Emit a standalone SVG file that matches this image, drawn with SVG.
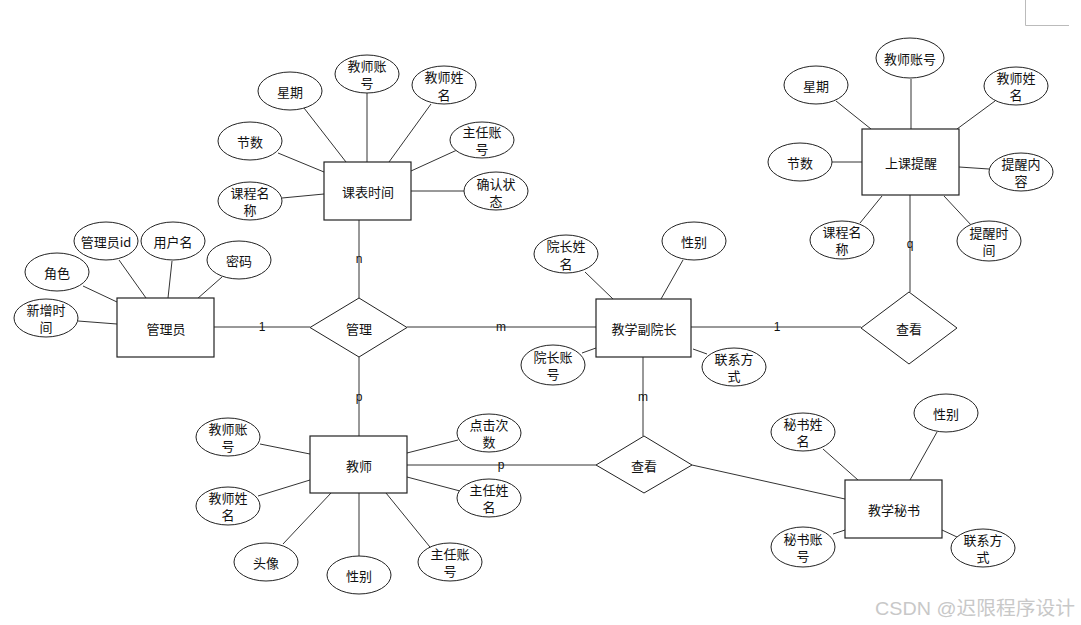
<svg xmlns="http://www.w3.org/2000/svg" width="1081" height="625" viewBox="0 0 1081 625">
<style>
.bg{fill:#fff}
.ent{fill:#fff;stroke:#222;stroke-width:1.2}
.att{fill:#fff;stroke:#222;stroke-width:1}
.rel{fill:#fff;stroke:#222;stroke-width:1}
.ln{stroke:#333;stroke-width:1;fill:none}
.t{font-family:"Noto Sans CJK SC","Liberation Sans",sans-serif;font-size:13px;fill:#111;text-anchor:middle;dominant-baseline:central}
.lb{font-family:"Liberation Sans",sans-serif;font-size:12px;fill:#111;text-anchor:middle;dominant-baseline:central}
.wm{font-family:"Liberation Sans","Noto Sans CJK SC",sans-serif;font-size:19px;fill:#c8c8c8}
</style>
<rect class="bg" x="0" y="0" width="1081" height="625"/>
<path d="M1025.500 0 V25.500 H1069" stroke="#bbb" stroke-width="1" fill="none"/>

<g id="connectors">
<!-- 管理员 attributes -->
<line class="ln" x1="83" y1="286" x2="117" y2="302"/>
<line class="ln" x1="119" y1="260" x2="146" y2="298"/>
<line class="ln" x1="172" y1="261" x2="168" y2="298"/>
<line class="ln" x1="222" y1="277" x2="197" y2="299"/>
<line class="ln" x1="78" y1="321" x2="117" y2="324"/>
<!-- 课表时间 attributes -->
<line class="ln" x1="304" y1="108" x2="346" y2="162"/>
<line class="ln" x1="367" y1="93" x2="367" y2="162"/>
<line class="ln" x1="431" y1="104" x2="389" y2="162"/>
<line class="ln" x1="457" y1="150" x2="411" y2="171"/>
<line class="ln" x1="464" y1="191" x2="411" y2="191"/>
<line class="ln" x1="278" y1="153" x2="324" y2="172"/>
<line class="ln" x1="282" y1="198" x2="324" y2="194"/>
<!-- 教学副院长 attributes -->
<line class="ln" x1="585" y1="272" x2="613" y2="299"/>
<line class="ln" x1="683" y1="260" x2="661" y2="299"/>
<line class="ln" x1="582" y1="353" x2="596" y2="348"/>
<line class="ln" x1="693" y1="349" x2="707" y2="354"/>
<!-- 上课提醒 attributes -->
<line class="ln" x1="836" y1="101" x2="871" y2="129"/>
<line class="ln" x1="911" y1="79" x2="911" y2="129"/>
<line class="ln" x1="995" y1="101" x2="957" y2="129"/>
<line class="ln" x1="832" y1="162" x2="862" y2="162"/>
<line class="ln" x1="959" y1="167" x2="989" y2="169"/>
<line class="ln" x1="860" y1="223" x2="882" y2="196"/>
<line class="ln" x1="972" y1="226" x2="944" y2="196"/>
<!-- 教师 attributes -->
<line class="ln" x1="260" y1="444" x2="310" y2="454"/>
<line class="ln" x1="258" y1="496" x2="310" y2="480"/>
<line class="ln" x1="283" y1="544" x2="331" y2="493"/>
<line class="ln" x1="359" y1="493" x2="359" y2="556"/>
<line class="ln" x1="434" y1="552" x2="386" y2="493"/>
<line class="ln" x1="460" y1="491" x2="407" y2="477"/>
<line class="ln" x1="458" y1="440" x2="407" y2="453"/>
<!-- 教学秘书 attributes -->
<line class="ln" x1="823" y1="449" x2="858" y2="480"/>
<line class="ln" x1="937" y1="432" x2="910" y2="480"/>
<line class="ln" x1="833" y1="534" x2="845" y2="530"/>
<line class="ln" x1="942" y1="530" x2="957" y2="537"/>
<!-- relationships -->
<line class="ln" x1="214" y1="327" x2="310" y2="327"/>
<line class="ln" x1="359" y1="220" x2="359" y2="298"/>
<line class="ln" x1="407" y1="327" x2="596" y2="327"/>
<line class="ln" x1="359" y1="357" x2="359" y2="436"/>
<line class="ln" x1="691" y1="327" x2="861" y2="327"/>
<line class="ln" x1="910" y1="195" x2="910" y2="292"/>
<line class="ln" x1="643" y1="357" x2="643" y2="436"/>
<line class="ln" x1="407" y1="465" x2="596" y2="465"/>
<line class="ln" x1="692" y1="465" x2="845" y2="499"/>
<text class="lb" x="262" y="327">1</text>
<text class="lb" x="359" y="259">n</text>
<text class="lb" x="501" y="327">m</text>
<text class="lb" x="359" y="397">p</text>
<text class="lb" x="777" y="327">1</text>
<text class="lb" x="910" y="244">q</text>
<text class="lb" x="643" y="397">m</text>
<text class="lb" x="501" y="465">p</text>
</g>

<!-- entities -->
<g id="e-admin"><rect class="ent" x="117" y="298" width="97" height="59"/><text class="t" x="166" y="328">管理员</text></g>
<g id="e-schedule"><rect class="ent" x="324" y="162" width="87" height="58"/><text class="t" x="368" y="191">课表时间</text></g>
<g id="e-vicedean"><rect class="ent" x="596" y="299" width="95" height="58"/><text class="t" x="644" y="328">教学副院长</text></g>
<g id="e-remind"><rect class="ent" x="862" y="129" width="97" height="66"/><text class="t" x="911" y="162">上课提醒</text></g>
<g id="e-teacher"><rect class="ent" x="310" y="436" width="97" height="57"/><text class="t" x="359" y="465">教师</text></g>
<g id="e-secretary"><rect class="ent" x="845" y="480" width="97" height="58"/><text class="t" x="894" y="509">教学秘书</text></g>

<!-- relationships -->
<g id="r-manage"><polygon class="rel" points="359,298 407,327.500 359,357 310,327.500"/><text class="t" x="359" y="328">管理</text></g>
<g id="r-view1"><polygon class="rel" points="909,292 957,328 909,364 861,328"/><text class="t" x="909" y="328">查看</text></g>
<g id="r-view2"><polygon class="rel" points="644,436 692,465 644,493 596,465"/><text class="t" x="644" y="465">查看</text></g>

<!-- attributes of 管理员 -->
<g id="a-admin-role"><ellipse class="att" cx="57" cy="272" rx="32" ry="19"/><text class="t" x="57" y="272">角色</text></g>
<g id="a-admin-id"><ellipse class="att" cx="106" cy="241" rx="32" ry="19"/><text class="t" x="106" y="241">管理员id</text></g>
<g id="a-admin-user"><ellipse class="att" cx="173" cy="241" rx="32" ry="19"/><text class="t" x="173" y="241">用户名</text></g>
<g id="a-admin-pwd"><ellipse class="att" cx="239" cy="260" rx="32" ry="19"/><text class="t" x="239" y="260">密码</text></g>
<g id="a-admin-time"><ellipse class="att" cx="46" cy="318" rx="32" ry="19"/><text class="t" x="46" y="309">新增时</text><text class="t" x="46" y="326">间</text></g>

<!-- attributes of 课表时间 -->
<g id="a-s-week"><ellipse class="att" cx="290" cy="91" rx="32" ry="19"/><text class="t" x="290" y="91">星期</text></g>
<g id="a-s-tacc"><ellipse class="att" cx="367" cy="74" rx="32" ry="19"/><text class="t" x="367" y="65">教师账</text><text class="t" x="367" y="82">号</text></g>
<g id="a-s-tname"><ellipse class="att" cx="444" cy="85" rx="32" ry="19"/><text class="t" x="444" y="76">教师姓</text><text class="t" x="444" y="94">名</text></g>
<g id="a-s-dacc"><ellipse class="att" cx="482" cy="140" rx="32" ry="18"/><text class="t" x="482" y="131">主任账</text><text class="t" x="482" y="148">号</text></g>
<g id="a-s-confirm"><ellipse class="att" cx="496" cy="191" rx="32" ry="19"/><text class="t" x="496" y="183">确认状</text><text class="t" x="496" y="200">态</text></g>
<g id="a-s-num"><ellipse class="att" cx="250" cy="141" rx="32" ry="19"/><text class="t" x="250" y="141">节数</text></g>
<g id="a-s-course"><ellipse class="att" cx="250" cy="201" rx="32" ry="19"/><text class="t" x="250" y="192">课程名</text><text class="t" x="250" y="209">称</text></g>

<!-- attributes of 教学副院长 -->
<g id="a-v-name"><ellipse class="att" cx="566" cy="254" rx="32" ry="19"/><text class="t" x="566" y="245">院长姓</text><text class="t" x="566" y="263">名</text></g>
<g id="a-v-sex"><ellipse class="att" cx="694" cy="241" rx="32" ry="19"/><text class="t" x="694" y="241">性别</text></g>
<g id="a-v-acc"><ellipse class="att" cx="553" cy="365" rx="32" ry="20"/><text class="t" x="553" y="356">院长账</text><text class="t" x="553" y="373">号</text></g>
<g id="a-v-contact"><ellipse class="att" cx="734" cy="367" rx="32" ry="19"/><text class="t" x="734" y="358">联系方</text><text class="t" x="734" y="375">式</text></g>

<!-- attributes of 上课提醒 -->
<g id="a-r-tacc"><ellipse class="att" cx="910" cy="58" rx="34" ry="20"/><text class="t" x="910" y="58">教师账号</text></g>
<g id="a-r-week"><ellipse class="att" cx="816" cy="85" rx="32" ry="19"/><text class="t" x="816" y="85">星期</text></g>
<g id="a-r-tname"><ellipse class="att" cx="1016" cy="86" rx="32" ry="19"/><text class="t" x="1016" y="77">教师姓</text><text class="t" x="1016" y="94">名</text></g>
<g id="a-r-num"><ellipse class="att" cx="800" cy="162" rx="32" ry="19"/><text class="t" x="800" y="162">节数</text></g>
<g id="a-r-content"><ellipse class="att" cx="1021" cy="172" rx="32" ry="19"/><text class="t" x="1021" y="163">提醒内</text><text class="t" x="1021" y="180">容</text></g>
<g id="a-r-course"><ellipse class="att" cx="842" cy="240" rx="32" ry="19"/><text class="t" x="842" y="231">课程名</text><text class="t" x="842" y="248">称</text></g>
<g id="a-r-time"><ellipse class="att" cx="989" cy="241" rx="32" ry="20"/><text class="t" x="989" y="232">提醒时</text><text class="t" x="989" y="249">间</text></g>

<!-- attributes of 教师 -->
<g id="a-t-acc"><ellipse class="att" cx="228" cy="437" rx="32" ry="19"/><text class="t" x="228" y="428">教师账</text><text class="t" x="228" y="445">号</text></g>
<g id="a-t-name"><ellipse class="att" cx="228" cy="506" rx="32" ry="19"/><text class="t" x="228" y="497">教师姓</text><text class="t" x="228" y="514">名</text></g>
<g id="a-t-avatar"><ellipse class="att" cx="266" cy="562" rx="32" ry="19"/><text class="t" x="266" y="562">头像</text></g>
<g id="a-t-sex"><ellipse class="att" cx="359" cy="575" rx="32" ry="19"/><text class="t" x="359" y="575">性别</text></g>
<g id="a-t-dacc"><ellipse class="att" cx="450" cy="562" rx="32" ry="19"/><text class="t" x="450" y="553">主任账</text><text class="t" x="450" y="570">号</text></g>
<g id="a-t-dname"><ellipse class="att" cx="489" cy="498" rx="32" ry="19"/><text class="t" x="489" y="489">主任姓</text><text class="t" x="489" y="506">名</text></g>
<g id="a-t-clicks"><ellipse class="att" cx="489" cy="433" rx="32" ry="19"/><text class="t" x="489" y="424">点击次</text><text class="t" x="489" y="441">数</text></g>

<!-- attributes of 教学秘书 -->
<g id="a-c-name"><ellipse class="att" cx="803" cy="432" rx="32" ry="19"/><text class="t" x="803" y="423">秘书姓</text><text class="t" x="803" y="440">名</text></g>
<g id="a-c-sex"><ellipse class="att" cx="946" cy="413" rx="32" ry="19"/><text class="t" x="946" y="413">性别</text></g>
<g id="a-c-acc"><ellipse class="att" cx="803" cy="547" rx="32" ry="20"/><text class="t" x="803" y="538">秘书账</text><text class="t" x="803" y="555">号</text></g>
<g id="a-c-contact"><ellipse class="att" cx="983" cy="548" rx="32" ry="19"/><text class="t" x="983" y="539">联系方</text><text class="t" x="983" y="556">式</text></g>

<text class="wm" x="875" y="615" textLength="200" lengthAdjust="spacingAndGlyphs">CSDN @迟限程序设计</text>
</svg>
